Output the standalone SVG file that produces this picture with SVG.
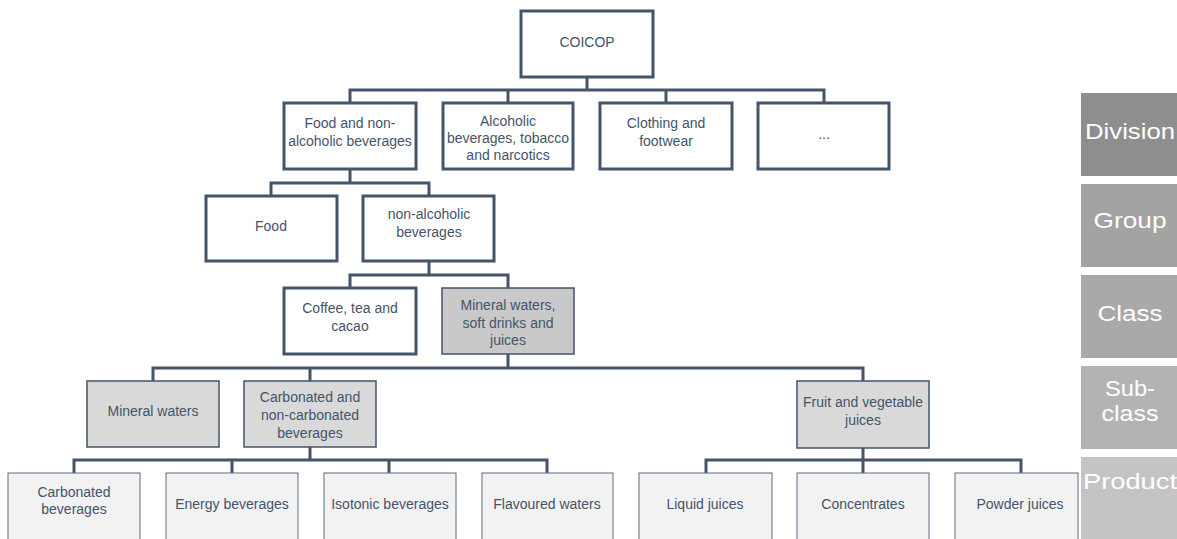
<svg xmlns="http://www.w3.org/2000/svg" width="1177" height="539" viewBox="0 0 1177 539">
  <style>
    .conn { fill: none; stroke: #44546a; stroke-width: 3; stroke-linejoin: miter; stroke-linecap: butt; }
    .box { fill: #ffffff; stroke: #44546a; stroke-width: 3; }
    .cls { fill: #c9c9c9; stroke: #44546a; stroke-width: 1.5; }
    .sub { fill: #d9d9d9; stroke: #44546a; stroke-width: 1.5; }
    .prod { fill: #f2f2f2; stroke: #5d6c82; stroke-width: 1; }
    .t { font-family: "Liberation Sans", Arial, sans-serif; font-size: 14px; fill: #44546a; text-anchor: middle; }
    .lvl { font-family: "Liberation Sans", Arial, sans-serif; font-size: 22px; fill: #ffffff; text-anchor: middle; }
  </style>

  <!-- tree connectors -->
  <g id="connectors">
    <path class="conn" d="M587 77 V90"/>
    <path class="conn" d="M350 103 V90 H824 V103"/>
    <path class="conn" d="M508 90 V103 M666 90 V103"/>

    <path class="conn" d="M350 169 V183"/>
    <path class="conn" d="M271 196 V183 H429 V196"/>

    <path class="conn" d="M429 261 V275"/>
    <path class="conn" d="M350 288 V275 H508 V288"/>

    <path class="conn" d="M508 354 V368"/>
    <path class="conn" d="M153 381 V368 H863 V381"/>
    <path class="conn" d="M310 368 V381"/>

    <path class="conn" d="M310 447 V460"/>
    <path class="conn" d="M74 473 V460 H547 V473"/>
    <path class="conn" d="M232 460 V473 M389 460 V473"/>

    <path class="conn" d="M863 448 V460"/>
    <path class="conn" d="M706 473 V460 H1021 V473"/>
    <path class="conn" d="M863 460 V473"/>
  </g>

  <!-- root -->
  <g id="coicop">
    <rect class="box" x="521" y="11" width="132" height="66"/>
    <text class="t" x="587" y="47">COICOP</text>
  </g>

  <!-- divisions -->
  <g id="food-nonalc">
    <rect class="box" x="284" y="103" width="132" height="66"/>
    <text class="t" x="350" y="128">Food and non-</text>
    <text class="t" x="350" y="146">alcoholic beverages</text>
  </g>
  <g id="alcoholic">
    <rect class="box" x="443" y="103" width="130" height="66"/>
    <text class="t" x="508" y="126">Alcoholic</text>
    <text class="t" x="508" y="143">beverages, tobacco</text>
    <text class="t" x="508" y="160">and narcotics</text>
  </g>
  <g id="clothing">
    <rect class="box" x="600" y="103" width="132" height="66"/>
    <text class="t" x="666" y="128">Clothing and</text>
    <text class="t" x="666" y="146">footwear</text>
  </g>
  <g id="more">
    <rect class="box" x="758" y="103" width="131" height="66"/>
    <text class="t" x="824" y="139">...</text>
  </g>

  <!-- groups -->
  <g id="food">
    <rect class="box" x="206" y="196" width="131" height="65"/>
    <text class="t" x="271" y="231">Food</text>
  </g>
  <g id="nonalc">
    <rect class="box" x="363" y="196" width="131" height="65"/>
    <text class="t" x="429" y="219">non-alcoholic</text>
    <text class="t" x="429" y="237">beverages</text>
  </g>

  <!-- classes -->
  <g id="coffee">
    <rect class="box" x="284" y="288" width="132" height="66"/>
    <text class="t" x="350" y="313">Coffee, tea and</text>
    <text class="t" x="350" y="331">cacao</text>
  </g>
  <g id="mineral-soft-juices">
    <rect class="cls" x="442" y="288" width="132" height="66"/>
    <text class="t" x="508" y="310">Mineral waters,</text>
    <text class="t" x="508" y="328">soft drinks and</text>
    <text class="t" x="508" y="345">juices</text>
  </g>

  <!-- sub-classes -->
  <g id="mineral-waters">
    <rect class="sub" x="87" y="381" width="132" height="66"/>
    <text class="t" x="153" y="416">Mineral waters</text>
  </g>
  <g id="carbonated-non">
    <rect class="sub" x="244" y="381" width="132" height="66"/>
    <text class="t" x="310" y="402">Carbonated and</text>
    <text class="t" x="310" y="420">non-carbonated</text>
    <text class="t" x="310" y="438">beverages</text>
  </g>
  <g id="fruit-veg">
    <rect class="sub" x="797" y="381" width="132" height="67"/>
    <text class="t" x="863" y="407">Fruit and vegetable</text>
    <text class="t" x="863" y="425">juices</text>
  </g>

  <!-- products -->
  <g id="carbonated-bev">
    <rect class="prod" x="8" y="473" width="132" height="80"/>
    <text class="t" x="74" y="497">Carbonated</text>
    <text class="t" x="74" y="514">beverages</text>
  </g>
  <g id="energy">
    <rect class="prod" x="166" y="473" width="132" height="80"/>
    <text class="t" x="232" y="509">Energy beverages</text>
  </g>
  <g id="isotonic">
    <rect class="prod" x="324" y="473" width="132" height="80"/>
    <text class="t" x="390" y="509">Isotonic beverages</text>
  </g>
  <g id="flavoured">
    <rect class="prod" x="482" y="473" width="131" height="80"/>
    <text class="t" x="547" y="509">Flavoured waters</text>
  </g>
  <g id="liquid">
    <rect class="prod" x="639" y="473" width="133" height="80"/>
    <text class="t" x="705" y="509">Liquid juices</text>
  </g>
  <g id="concentrates">
    <rect class="prod" x="797" y="473" width="132" height="80"/>
    <text class="t" x="863" y="509">Concentrates</text>
  </g>
  <g id="powder">
    <rect class="prod" x="955" y="473" width="123" height="80"/>
    <text class="t" x="1020" y="509">Powder juices</text>
  </g>

  <!-- level legend -->
  <g id="legend-division">
    <rect x="1081" y="93" width="100" height="83" fill="#8e8e8e"/>
    <text class="lvl" x="1130" y="139" textLength="90" lengthAdjust="spacingAndGlyphs">Division</text>
  </g>
  <g id="legend-group">
    <rect x="1081" y="184" width="100" height="83" fill="#a3a3a3"/>
    <text class="lvl" x="1130" y="228" textLength="73" lengthAdjust="spacingAndGlyphs">Group</text>
  </g>
  <g id="legend-class">
    <rect x="1081" y="275" width="100" height="83" fill="#a9a9a9"/>
    <text class="lvl" x="1130" y="321" textLength="65" lengthAdjust="spacingAndGlyphs">Class</text>
  </g>
  <g id="legend-subclass">
    <rect x="1081" y="366" width="100" height="83" fill="#b3b3b3"/>
    <text class="lvl" x="1130" y="396" textLength="50" lengthAdjust="spacingAndGlyphs">Sub-</text>
    <text class="lvl" x="1130" y="421" textLength="57" lengthAdjust="spacingAndGlyphs">class</text>
  </g>
  <g id="legend-product">
    <rect x="1081" y="457" width="100" height="90" fill="#c4c4c4"/>
    <text class="lvl" x="1130" y="489" textLength="94" lengthAdjust="spacingAndGlyphs">Product</text>
  </g>
</svg>
